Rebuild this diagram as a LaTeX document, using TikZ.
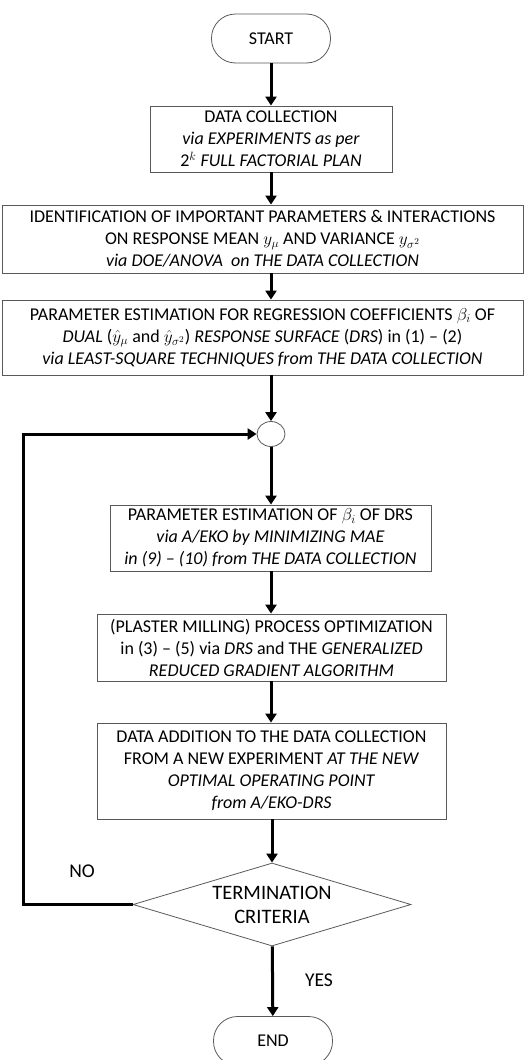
\documentclass[tikz,border=0pt]{standalone}
\usepackage{fontspec}
\setmainfont{Carlito}
\usetikzlibrary{arrows.meta,shapes.geometric}
\tikzset{
  box/.style={draw=black!65, line width=0.8pt, align=center, inner sep=0pt,
    font=\fontsize{18}{22}\selectfont},
  term/.style={box, rounded corners=24pt, minimum width=119pt, minimum height=49pt},
  flow/.style={line width=3pt, -{Triangle[length=9pt,width=11pt]}},
  lbl/.style={font=\fontsize{19.5}{22}\selectfont}
}

\begin{document}
\begin{tikzpicture}[x=1pt,y=-1pt]
   \path[use as bounding box] (0,0) rectangle (527,1060);
   \node[term] (start) at (271,38.5) {START};
   \node[box, minimum width=242pt, minimum height=66pt] (collect) at (271,139)
     {DATA COLLECTION\\ \textit{via EXPERIMENTS as per}\\ 2$^{k}$ \textit{FULL FACTORIAL PLAN}};
   \node[box, minimum width=521pt, minimum height=68pt] (ident) at (262.5,239)
     {IDENTIFICATION OF IMPORTANT PARAMETERS \& INTERACTIONS\\
      ON RESPONSE MEAN $y_\mu$ AND VARIANCE $y_{\sigma^2}$\\
      \textit{via DOE/ANOVA\ \ on THE DATA COLLECTION}};
   \node[box, minimum width=521pt, minimum height=75pt] (regress) at (262.5,337.5)
     {PARAMETER ESTIMATION FOR REGRESSION COEFFICIENTS $\beta_i$ OF\\
      \textit{DUAL} ($\hat{y}_\mu$ and $\hat{y}_{\sigma^2}$) \textit{RESPONSE SURFACE} (\textit{DRS}) in (1) -- (2)\\
      \textit{via LEAST-SQUARE TECHNIQUES from THE DATA COLLECTION}};
   \node[ellipse, draw=black!65, line width=0.8pt, minimum width=28pt, minimum height=25pt, inner sep=0pt] (join) at (271,434) {};
   \node[box, minimum width=321pt, minimum height=66pt] (aeko) at (270.5,538)
     {PARAMETER ESTIMATION OF $\beta_i$ OF DRS\\
      \textit{via A/EKO by MINIMIZING MAE}\\
      \textit{in (9) -- (10) from THE DATA COLLECTION}};
   \node[box, minimum width=349pt, minimum height=67pt] (optim) at (271.5,647.5)
     {(PLASTER MILLING) PROCESS OPTIMIZATION\\
      in (3) -- (5) via \textit{DRS} and THE \textit{GENERALIZED}\\
      \textit{REDUCED GRADIENT ALGORITHM}};
   \node[box, minimum width=349pt, minimum height=96pt] (addition) at (271.5,771)
     {DATA ADDITION TO THE DATA COLLECTION\\
      FROM A NEW EXPERIMENT \textit{AT THE NEW}\\
      \textit{OPTIMAL OPERATING POINT}\\
      \textit{from A/EKO-DRS}};
   \node[box, diamond, aspect=3.35, minimum width=278pt, minimum height=83pt,
     font=\fontsize{20.5}{24}\selectfont] (crit) at (272,904.5) {TERMINATION\\ CRITERIA};
   \node[term] (end) at (273,1041) {END};
   \coordinate (loop) at (23,434);
   \draw[flow] (start) -- (collect);
   \draw[flow] (collect) -- (ident.north -| collect);
   \draw[flow] (ident.south -| collect) -- (regress.north -| collect);
   \draw[flow] (regress.south -| collect) -- (join);
   \draw[flow] (join) -- (aeko.north -| join);
   \draw[flow] (aeko.south -| join) -- (optim.north -| join);
   \draw[flow] (optim.south -| join) -- (addition.north -| join);
   \draw[flow] (addition.south -| crit) -- (crit);
   \draw[flow] (crit) -- (end);
   \draw[flow] (crit.west) -| (loop) -- (join);
   \node[lbl] (no) at (82,871) {NO};
   \node[lbl] (yes) at (319,980) {YES};
\end{tikzpicture}
\end{document}
